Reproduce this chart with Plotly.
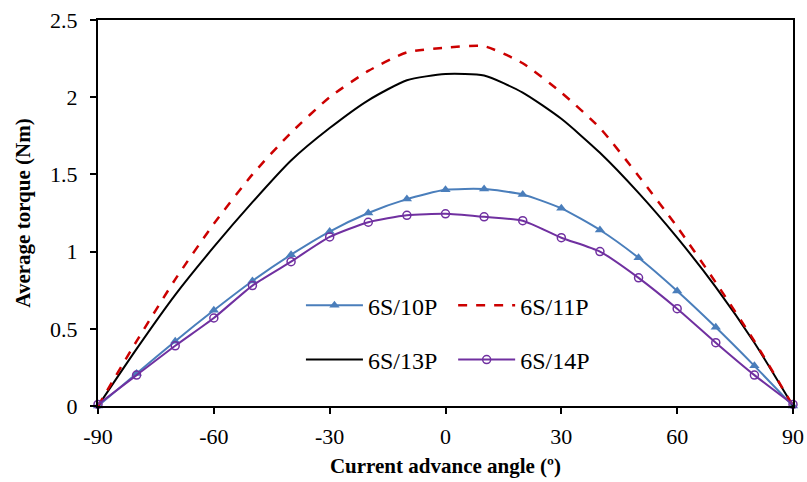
import plotly.graph_objects as go

# Current advance angle (degrees)
angle = [-90, -80, -70, -60, -50, -40, -30, -20, -10, 0, 10, 20, 30, 40, 50, 60, 70, 80, 90]

# Average torque (Nm) for each slot/pole combination
torque_6s10p = [0.0, 0.21, 0.42, 0.62, 0.81, 0.98, 1.13, 1.25, 1.34, 1.40, 1.405, 1.37, 1.28, 1.14, 0.96, 0.745, 0.51, 0.26, 0.0]
torque_6s11p = [0.0, 0.42, 0.82, 1.18, 1.50, 1.77, 2.00, 2.17, 2.29, 2.32, 2.33, 2.22, 2.03, 1.80, 1.49, 1.16, 0.80, 0.42, 0.0]
torque_6s13p = [0.0, 0.37, 0.72, 1.03, 1.32, 1.59, 1.80, 1.98, 2.11, 2.15, 2.14, 2.03, 1.86, 1.64, 1.38, 1.09, 0.77, 0.41, 0.0]
torque_6s14p = [0.01, 0.20, 0.39, 0.57, 0.78, 0.935, 1.095, 1.19, 1.235, 1.245, 1.225, 1.20, 1.09, 1.00, 0.83, 0.63, 0.41, 0.20, 0.01]

x_ticks = [-90, -60, -30, 0, 30, 60, 90]
x_tick_text = ["-90", "-60", "-30", "0", "30", "60", "90"]
y_ticks = [0, 0.5, 1, 1.5, 2, 2.5]
y_tick_text = ["0", "0.5", "1", "1.5", "2", "2.5"]

FONT = "Liberation Serif"

fig = go.Figure()

fig.add_trace(go.Scatter(
    x=angle, y=torque_6s10p, name="6S/10P", mode="lines+markers",
    line=dict(color="#4a7ebb", width=2, shape="spline", smoothing=0.6),
    marker=dict(symbol="triangle-up", size=9, color="#4a7ebb"),
    legend="legend", legendgroup="a", cliponaxis=False,
))
fig.add_trace(go.Scatter(
    x=angle, y=torque_6s13p, name="6S/13P", mode="lines",
    line=dict(color="#000000", width=2, shape="spline", smoothing=0.6),
    legend="legend", legendgroup="b", cliponaxis=False,
))
fig.add_trace(go.Scatter(
    x=angle, y=torque_6s11p, name="6S/11P", mode="lines",
    line=dict(color="#cc0000", width=2.5, dash="dash", shape="spline", smoothing=0.6),
    legend="legend2", legendgroup="c", cliponaxis=False,
))
fig.add_trace(go.Scatter(
    x=angle, y=torque_6s14p, name="6S/14P", mode="lines+markers",
    line=dict(color="#7030a0", width=2, shape="spline", smoothing=0.6),
    marker=dict(symbol="circle-open", size=8, color="#7030a0", line=dict(width=1.5)),
    legend="legend2", legendgroup="d", cliponaxis=False,
))

legend_style = dict(
    font=dict(family=FONT, size=24, color="#000000"),
    bgcolor="rgba(0,0,0,0)", tracegroupgap=20,
    xanchor="left", yanchor="top", itemwidth=57,
)

fig.update_layout(
    width=807, height=482,
    margin=dict(l=98, r=14, t=20, b=76),
    paper_bgcolor="white", plot_bgcolor="white",
    font=dict(family=FONT, size=20, color="#000000"),
    showlegend=True,
    legend=dict(x=0.292, y=0.318, **legend_style),
    legend2=dict(x=0.511, y=0.318, **legend_style),
    xaxis=dict(
        range=[-90, 90], tickvals=x_ticks, ticktext=x_tick_text,
        ticks="outside", ticklen=6, tickwidth=1.5, tickcolor="#000",
        showline=True, linecolor="#000", linewidth=2, mirror=True,
        showgrid=False, zeroline=False, ticklabelstandoff=4,
        automargin=False,
        tickfont=dict(family=FONT, size=22),
        title=dict(text="<b>Current advance angle (º)</b>",
                   font=dict(family=FONT, size=21), standoff=10),
    ),
    yaxis=dict(
        range=[0, 2.5], tickvals=y_ticks, ticktext=y_tick_text,
        ticks="outside", ticklen=6, tickwidth=1.5, tickcolor="#000",
        showline=True, linecolor="#000", linewidth=2, mirror=True,
        showgrid=False, zeroline=False, ticklabelstandoff=8,
        automargin=False,
        tickfont=dict(family=FONT, size=22),
        title=dict(text="<b>Average torque (Nm)</b>",
                   font=dict(family=FONT, size=21), standoff=14),
    ),
)

fig.write_html("out.html")
